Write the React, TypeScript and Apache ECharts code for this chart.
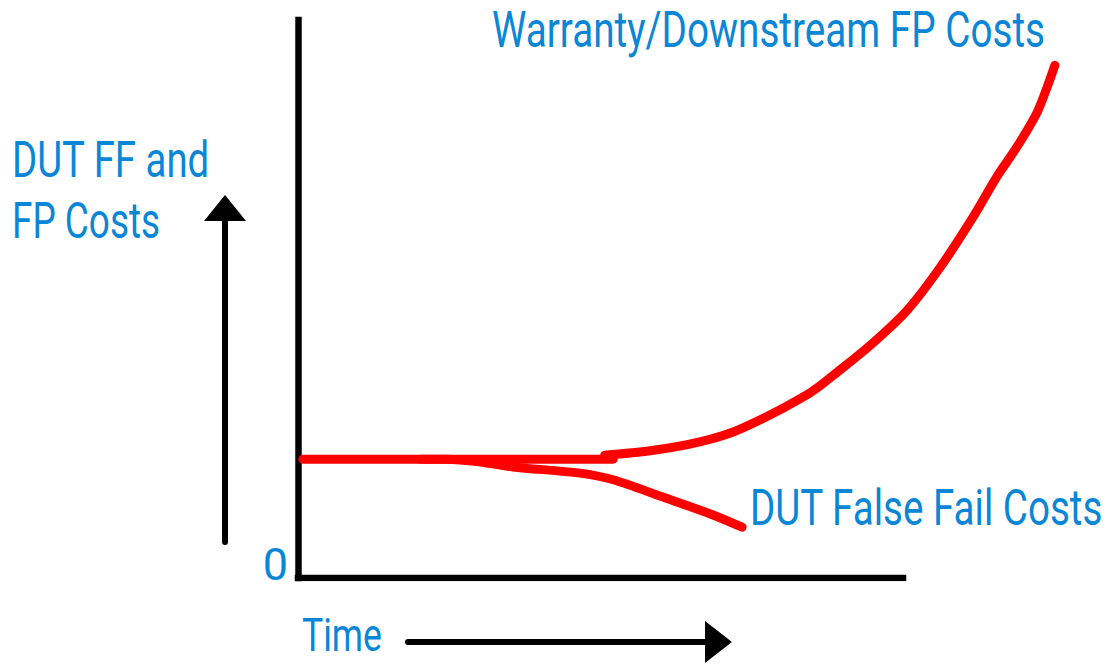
import React, { useEffect, useRef } from "react";
import * as echarts from "echarts";

// Data (time units: 0..100 spans the drawn x axis; cost units: 0..100 spans the y axis)
const baseline: [number, number][] = [
  [0.8, 21.3],
  [52.1, 21.3],
];
const warrantyCurve: [number, number][] = [
  [50.7, 22.0],
  [58.2, 22.8],
  [66.4, 24.4],
  [73.1, 26.7],
  [84.1, 32.8],
  [89.6, 37.3],
  [95.0, 42.1],
  [100.7, 48.0],
  [106.1, 55.6],
  [111.6, 64.7],
  [115.5, 71.9],
  [118.8, 77.2],
  [122.1, 83.3],
  [123.8, 87.9],
  [125.1, 91.9],
];
const falseFailCurve: [number, number][] = [
  [20.2, 21.3],
  [24.6, 21.3],
  [30.1, 20.8],
  [35.5, 19.9],
  [46.6, 18.8],
  [52.1, 17.6],
  [60.3, 14.5],
  [68.6, 11.3],
  [73.4, 9.1],
];
const xAxisLine: [number, number][] = [
  [0, 0],
  [100, 0],
];
const yTickLabels = ["0"];
const labels = {
  warranty: "Warranty/Downstream FP Costs",
  falseFail: "DUT False Fail Costs",
  yTitle1: "DUT FF and",
  yTitle2: "FP Costs",
  xTitle: "Time",
};

const BLUE = "#0a86d6";
const RED = "#ff0000";
const FONT = "Roboto, 'Liberation Sans', sans-serif";

function measure(text: string, font: string): number {
  const ctx = document.createElement("canvas").getContext("2d");
  if (!ctx) return text.length * 20;
  ctx.font = font;
  return ctx.measureText(text).width;
}

export default function App() {
  const ref = useRef<HTMLDivElement>(null);
  useEffect(() => {
    if (!ref.current) return;
    const chart = echarts.init(ref.current, null, { renderer: "svg" });
    const lineStyle = { color: RED, width: 9, cap: "round" as const, join: "round" as const };
    const txt = (x: number, y: number, text: string, targetW: number, size = 50) => {
      const font = `${size}px ${FONT}`;
      return {
        type: "text",
        x,
        y,
        scaleX: targetW / measure(text, font),
        style: { text, fill: BLUE, font, textVerticalAlign: "top", textAlign: "left" },
      };
    };
    chart.setOption({
      animation: false,
      backgroundColor: "#ffffff",
      grid: { left: 298, right: 25.5, top: 20, bottom: 86, containLabel: false },
      xAxis: {
        type: "value",
        min: 0,
        max: 130,
        axisLine: { show: false },
        axisTick: { show: false },
        axisLabel: { show: false },
        splitLine: { show: false },
      },
      yAxis: {
        type: "value",
        min: 0,
        max: 100,
        interval: 100,
        axisLine: { show: true, lineStyle: { color: "#000", width: 6.5, cap: "square" } },
        axisTick: { show: false },
        splitLine: { show: false },
        axisLabel: {
          show: true,
          formatter: (v: number) => (v === 0 ? yTickLabels[0] : ""),
          color: BLUE,
          fontSize: 45,
          fontFamily: FONT,
          verticalAlign: "bottom",
          lineHeight: 28,
          margin: 10,
        },
      },
      series: [
        {
          type: "line",
          name: "axis",
          data: xAxisLine,
          showSymbol: false,
          silent: true,
          lineStyle: { color: "#000", width: 6.5, cap: "square" },
        },
        { type: "line", name: "Warranty/Downstream FP Costs", data: baseline, showSymbol: false, lineStyle },
        { type: "line", name: "Warranty/Downstream FP Costs", data: warrantyCurve, smooth: 0.3, showSymbol: false, lineStyle },
        { type: "line", name: "DUT False Fail Costs", data: falseFailCurve, smooth: 0.3, showSymbol: false, lineStyle },
      ],
      graphic: [
        txt(492, 5.5, labels.warranty, 553),
        txt(750, 483.5, labels.falseFail, 353),
        txt(12, 135.5, labels.yTitle1, 198),
        txt(12, 195.5, labels.yTitle2, 148),
        txt(302, 611, labels.xTitle, 80, 47),
        // y arrow
        { type: "line", shape: { x1: 225, y1: 542, x2: 225, y2: 215 }, style: { stroke: "#000", lineWidth: 6, lineCap: "round" } },
        { type: "polygon", shape: { points: [[225, 195], [246, 221], [204, 221]] }, style: { fill: "#000" } },
        // x arrow
        { type: "line", shape: { x1: 408, y1: 642, x2: 712, y2: 642 }, style: { stroke: "#000", lineWidth: 6, lineCap: "round" } },
        { type: "polygon", shape: { points: [[732, 642], [705, 621], [705, 663]] }, style: { fill: "#000" } },
      ],
    });
    return () => chart.dispose();
  }, []);
  return <div ref={ref} style={{ position: "fixed", left: 0, top: 0, width: 1110, height: 664 }} />;
}
